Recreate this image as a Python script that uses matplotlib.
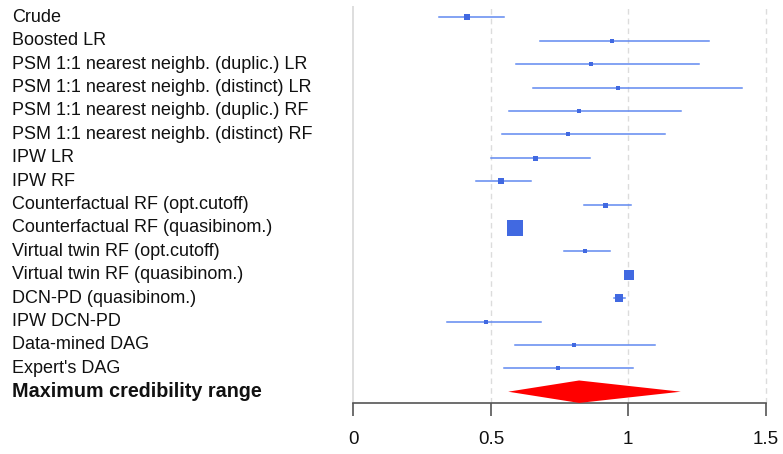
import numpy as np
import matplotlib
matplotlib.use("Agg")
import matplotlib.pyplot as plt
import matplotlib.transforms as mtransforms

# forest plot data
labels = ["Crude", "Boosted LR",
          "PSM 1:1 nearest neighb. (duplic.) LR",
          "PSM 1:1 nearest neighb. (distinct) LR",
          "PSM 1:1 nearest neighb. (duplic.) RF",
          "PSM 1:1 nearest neighb. (distinct) RF",
          "IPW LR", "IPW RF",
          "Counterfactual RF (opt.cutoff)",
          "Counterfactual RF (quasibinom.)",
          "Virtual twin RF (opt.cutoff)",
          "Virtual twin RF (quasibinom.)",
          "DCN-PD (quasibinom.)",
          "IPW DCN-PD",
          "Data-mined DAG",
          "Expert's DAG"]
est = [0.412, 0.940, 0.864, 0.961, 0.821, 0.782, 0.660, 0.536,
       0.917, 0.587, 0.844, 1.004, 0.967, 0.482, 0.804, 0.745]
lo = [0.310, 0.679, 0.592, 0.655, 0.565, 0.541, 0.500, 0.447,
      0.837, 0.577, 0.767, 0.996, 0.947, 0.341, 0.589, 0.547]
hi = [0.547, 1.295, 1.258, 1.414, 1.190, 1.132, 0.862, 0.647,
      1.009, 0.598, 0.933, 1.012, 0.987, 0.682, 1.096, 1.016]
# relative box size (weight) of each estimate
weights = [3.7, 3.2, 3.1, 3.2, 3.1, 3.1, 3.6, 4.4,
           3.6, 11.7, 3.2, 7.9, 6.3, 3.2, 3.1, 3.1]

summary_label = "Maximum credibility range"
summary = (0.563, 0.821, 1.191)

xticks = [0, 0.5, 1, 1.5]
xticklabels = ["0", "0.5", "1", "1.5"]

plt.rcParams['font.family'] = ['Liberation Sans', 'DejaVu Sans']

fig = plt.figure(figsize=(7.83, 4.54), dpi=100)
ax = fig.add_axes([348 / 783, 1 - 403.4 / 454, 423.2 / 783, (403.4 - 5.6) / 454])

blue = "#4169e1"
line_blue = "#6189f0"

n = len(labels)
rows = np.arange(n)

for x in [0.5, 1.0, 1.5]:
    ax.axvline(x, color="#dcdcdc", lw=1, ls=(0, (4, 3)), zorder=0)
ax.axvline(0, color="#d8d8d8", lw=1.2, zorder=0)

for i in range(n):
    ax.plot([lo[i], hi[i]], [rows[i], rows[i]], color=line_blue, lw=1.1, zorder=2)
    ax.plot(est[i], rows[i], marker="s", ms=weights[i], color=blue,
            mec=blue, mew=0, zorder=3)

# summary diamond
ys = n
dl, dm, dh = summary
ax.fill([dl, dm, dh, dm], [ys, ys - 0.48, ys, ys + 0.48], color="red",
        lw=0, zorder=3)

ax.set_xlim(-0.02, 1.52)
ax.set_ylim(n + 0.5, -0.5)

for s in ["top", "right", "left"]:
    ax.spines[s].set_visible(False)
ax.spines["bottom"].set_bounds(0, 1.5)
ax.spines["bottom"].set_color("#555555")
ax.spines["bottom"].set_linewidth(1.2)
ax.set_yticks([])
ax.set_xticks(xticks)
ax.set_xticklabels(xticklabels, fontsize=13.5, color="#111111")
ax.tick_params(axis="x", length=9, width=1.2, color="#555555", pad=11)

trans = mtransforms.blended_transform_factory(fig.transFigure, ax.transData)
for i, lab in enumerate(labels):
    ax.text(12 / 783, rows[i], lab, transform=trans, ha="left", va="center",
            fontsize=13, color="#111111")
ax.text(12 / 783, ys, summary_label, transform=trans, ha="left", va="center",
        fontsize=14.2, fontweight="bold", color="#111111")

fig.savefig("out.png", dpi=100)
